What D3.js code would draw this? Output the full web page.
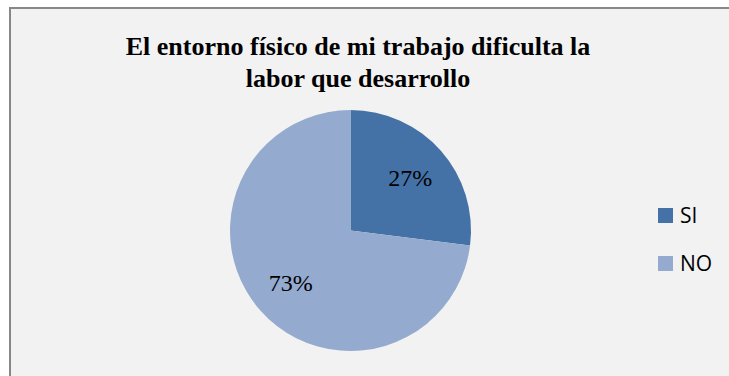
<!DOCTYPE html>
<html><head><meta charset="utf-8">
<script src="https://cdn.jsdelivr.net/npm/d3@7"></script>
</head><body style="margin:0;background:#fff">
<script>
const categories = ["SI", "NO"];
const values = [27, 73];
const labels = ["27%", "73%"];
const titleLines = ["El entorno físico de mi trabajo dificulta la", "labor que desarrollo"];
const colors = ["#4472A7", "#94AACF"];

const W = 729, H = 376;
const svg = d3.select("body").append("svg").attr("width", W).attr("height", H).style("display", "block");
svg.append("rect").attr("x", 10).attr("y", 8).attr("width", W + 30).attr("height", H + 30)
  .attr("fill", "#f2f2f2").attr("stroke", "#878787").attr("stroke-width", 2);

const cx = 350.5, cy = 230.5, r = 120.5;
const pie = d3.pie().sort(null).value(d => d)(values);
const arc = d3.arc().innerRadius(0).outerRadius(r);
const g = svg.append("g").attr("transform", `translate(${cx},${cy})`);
g.selectAll("path").data(pie).join("path").attr("d", arc).attr("fill", (d, i) => colors[i]);

const leg = svg.append("g");
categories.forEach((c, i) => {
  const y = 208 + i * 48;
  leg.append("rect").attr("x", 658).attr("y", y).attr("width", 15).attr("height", 15).attr("fill", colors[i]);
  leg.append("text").attr("x", 680).attr("y", y + 15)
    .attr("font-size", 21).attr("font-family", "Open Sans").text(c);
});

// slice labels
const labelArc = d3.arc().innerRadius(r * 0.66).outerRadius(r * 0.66);
g.selectAll("text.lbl").data(pie).join("text").attr("class", "lbl")
  .attr("transform", d => `translate(${labelArc.centroid(d)})`)
  .attr("text-anchor", "middle").attr("y", 8)
  .attr("font-family", "Liberation Serif").attr("font-size", 24)
  .text((d, i) => labels[i]);

// title
svg.selectAll("text.ttl").data(titleLines).join("text").attr("class", "ttl")
  .attr("x", 358).attr("y", (d, i) => 55 + i * 32)
  .attr("text-anchor", "middle")
  .attr("font-family", "Liberation Serif").attr("font-weight", "bold").attr("font-size", 26)
  .text(d => d);
const tn = svg.select("text.ttl").node();
const tw = tn.getComputedTextLength();
if (tw > 0) svg.selectAll("text.ttl").attr("font-size", 26 * 465 / tw);
</script>
</body></html>
